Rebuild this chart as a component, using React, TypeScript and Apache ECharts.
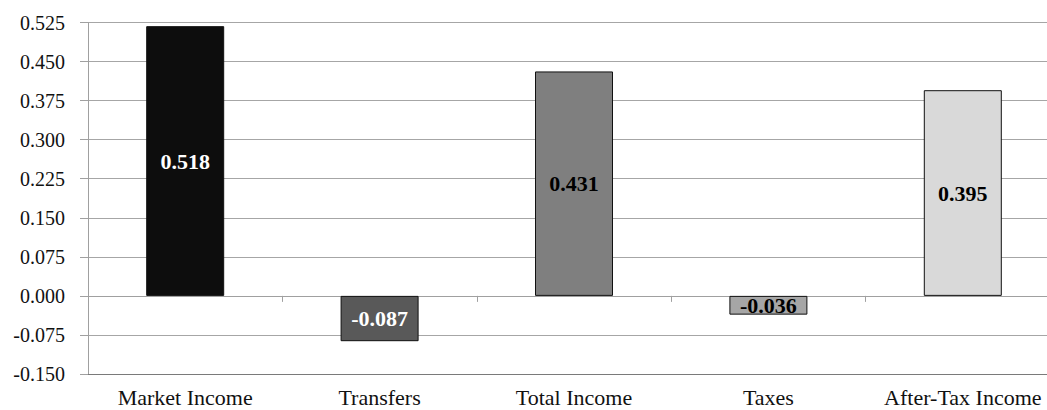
import React, { useEffect, useRef } from "react";
import * as echarts from "echarts";

const categories = ["Market Income", "Transfers", "Total Income", "Taxes", "After-Tax Income"];
const values = [0.518, -0.087, 0.431, -0.036, 0.395];
const barColors = ["#0d0d0d", "#595959", "#7f7f7f", "#a6a6a6", "#d9d9d9"];
const labelColors = ["#ffffff", "#ffffff", "#000000", "#000000", "#000000"];

const FONT = "'Liberation Serif', 'Times New Roman', serif";

export default function App() {
  const ref = useRef<HTMLDivElement>(null);
  useEffect(() => {
    document.body.style.margin = "0";
    if (!ref.current) return;
    const chart = echarts.init(ref.current, null, { renderer: "svg" });
    chart.setOption({
      animation: false,
      backgroundColor: "#ffffff",
      textStyle: { fontFamily: FONT },
      grid: {
        left: 88,
        width: 972,
        top: 22.5,
        bottom: 36,
        containLabel: false,
        outerBoundsMode: "none",
      },
      xAxis: [
        {
          type: "category",
          data: categories,
          position: "bottom",
          axisLine: { onZero: false, lineStyle: { color: "#7a7a7a", width: 1.2 } },
          axisTick: { show: false },
          axisLabel: {
            color: "#111",
            fontFamily: FONT,
            fontSize: 22,
            margin: 12,
            interval: 0,
            hideOverlap: false,
          },
        },
        {
          type: "category",
          data: categories,
          position: "top",
          axisLine: { onZero: true, lineStyle: { color: "#a0a0a0", width: 1 } },
          axisTick: { show: true, inside: true, length: 6, lineStyle: { color: "#a0a0a0" } },
          axisLabel: { show: false },
        },
      ],
      yAxis: {
        type: "value",
        min: -0.15,
        max: 0.525,
        interval: 0.075,
        axisLine: { show: true, lineStyle: { color: "#a0a0a0" } },
        axisTick: { show: true, length: 8, lineStyle: { color: "#a0a0a0" } },
        splitLine: { show: true, lineStyle: { color: "#a6a6a6", width: 1 } },
        axisLabel: {
          color: "#111",
          fontFamily: FONT,
          fontSize: 20,
          margin: 23,
          formatter: (v: number) => v.toFixed(3),
        },
      },
      series: [
        {
          type: "bar",
          xAxisIndex: 0,
          barWidth: 78,
          data: values.map((v, i) => ({
            value: v,
            itemStyle: { color: barColors[i], borderColor: "#111", borderWidth: 1 },
            label: { color: labelColors[i] },
          })),
          label: {
            show: true,
            position: "inside",
            fontFamily: FONT,
            fontSize: 22,
            fontWeight: "bold",
            formatter: (p: any) => Number(p.value).toFixed(3),
          },
        },
      ],
    });
    return () => chart.dispose();
  }, []);
  return <div ref={ref} style={{ width: 1047, height: 410 }} />;
}
